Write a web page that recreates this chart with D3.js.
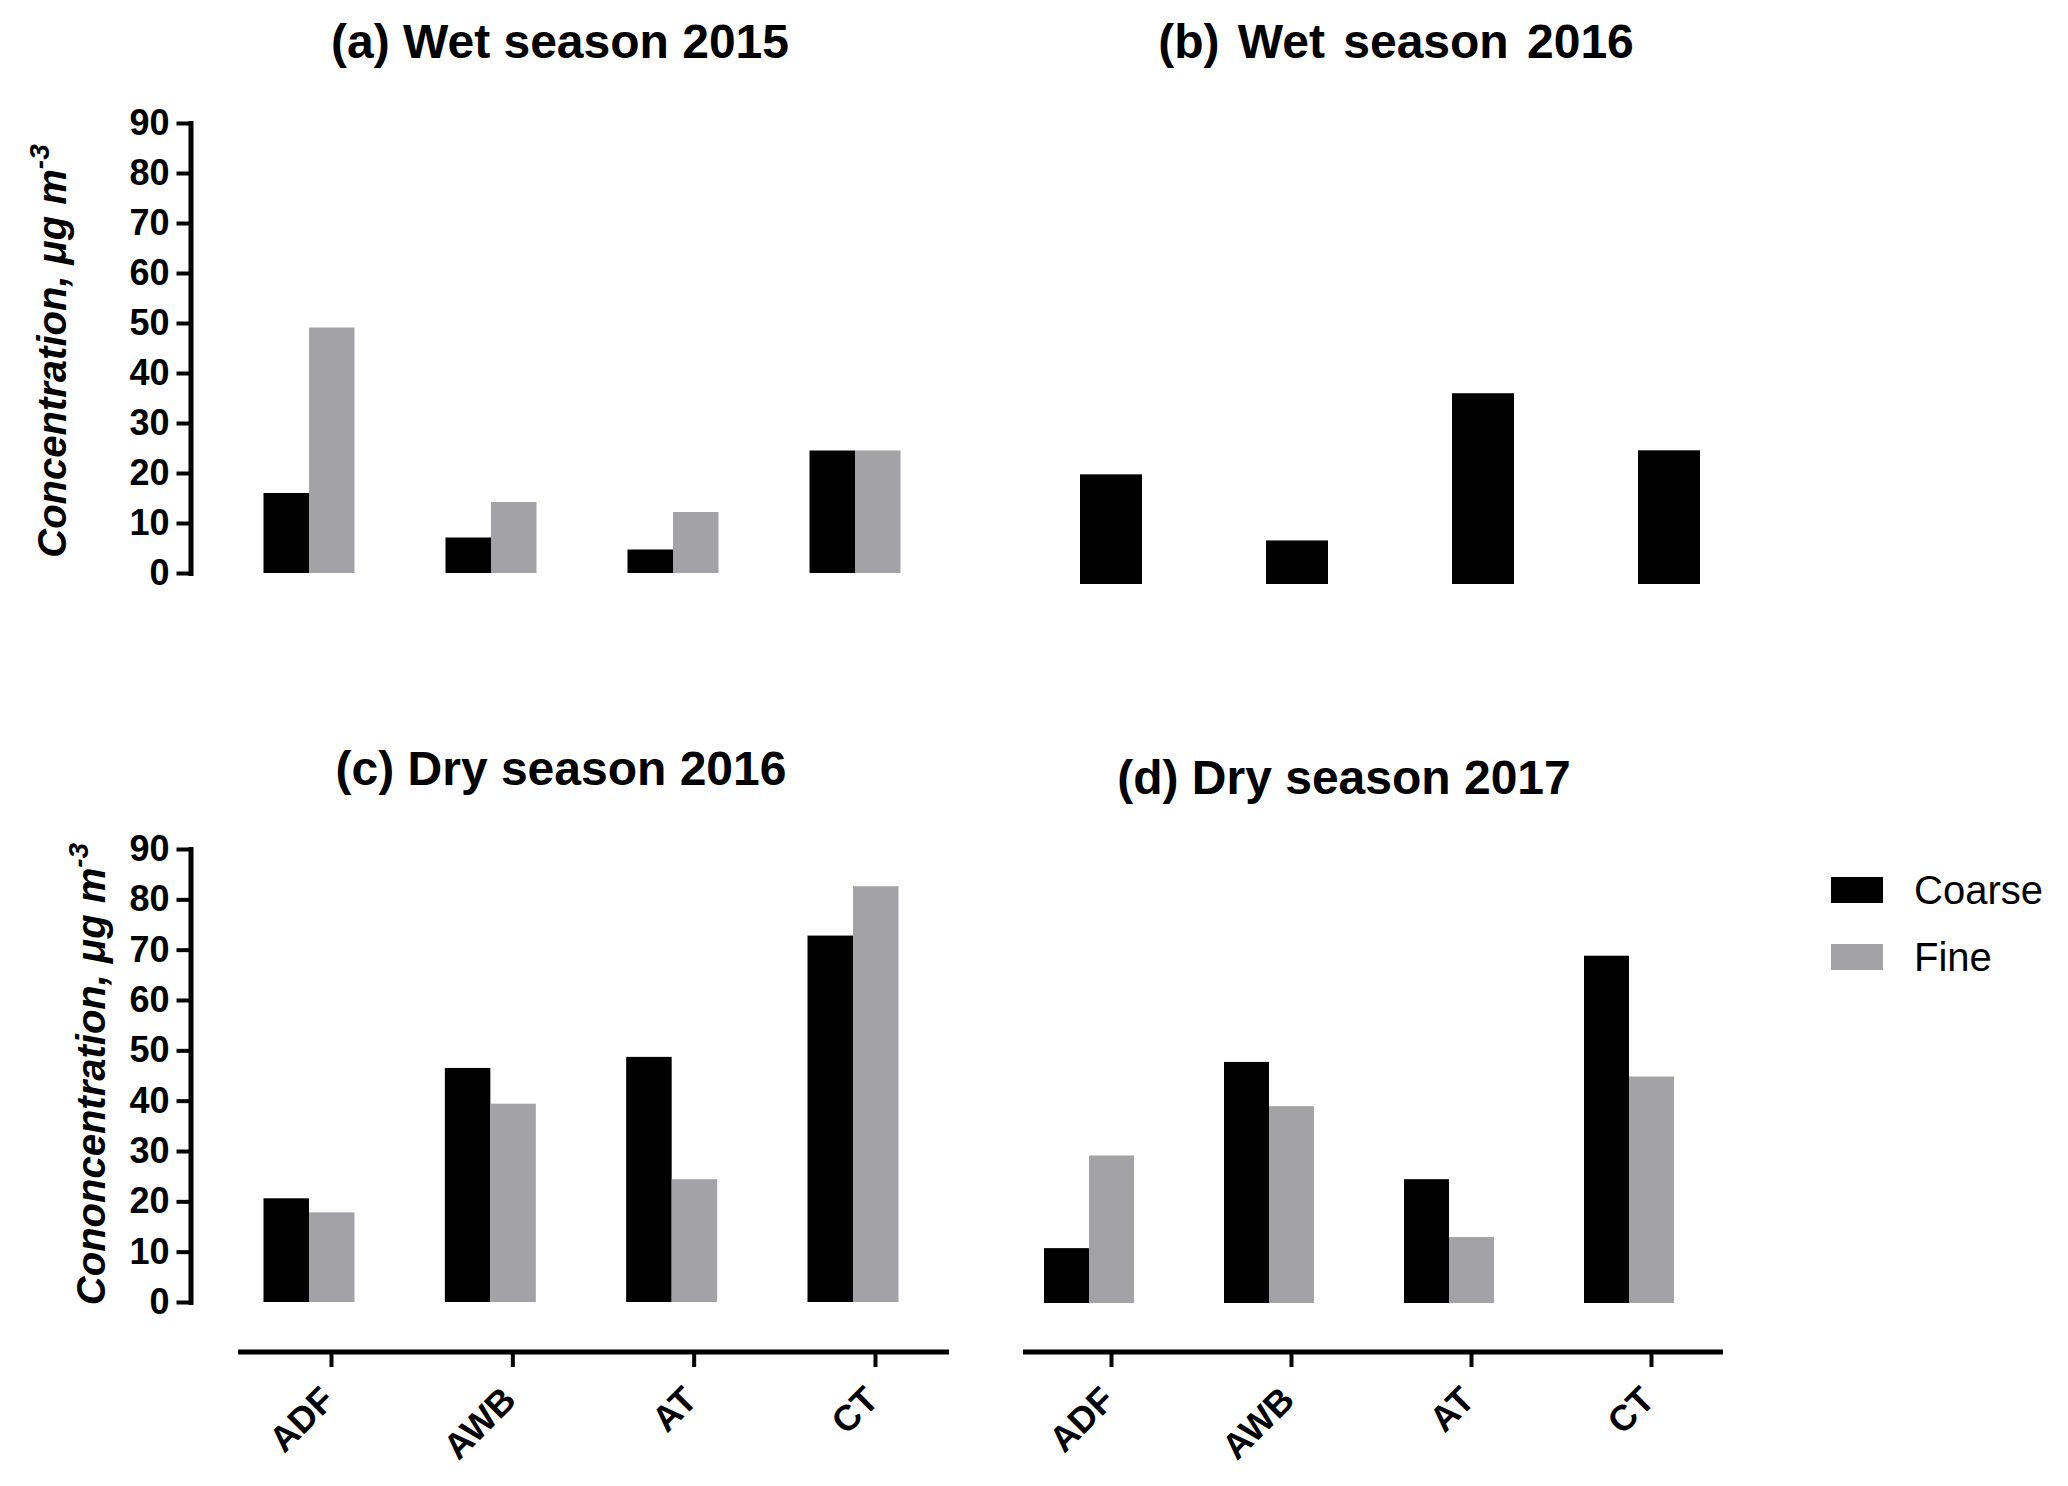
<!DOCTYPE html>
<html>
<head>
<meta charset="utf-8">
<script src="https://cdn.jsdelivr.net/npm/d3@7"></script>
<style>
body { margin: 0; background: #fff; }
svg text { font-family: "Liberation Sans", Arial, sans-serif; }
</style>
</head>
<body>
<svg id="chart" width="2068" height="1486"></svg>
<script>
var sites = ['ADF', 'AWB', 'AT', 'CT'];
var seriesNames = ['Coarse', 'Fine'];
var yTickValues = [0, 10, 20, 30, 40, 50, 60, 70, 80, 90];

var coarseWet2015 = [16.0, 7.1, 4.7, 24.5];
var fineWet2015 = [49.1, 14.2, 12.2, 24.5];
var coarseWet2016 = [21.9, 8.7, 38.1, 26.7];
var coarseDry2016 = [20.6, 46.5, 48.7, 72.8];
var fineDry2016 = [17.8, 39.4, 24.4, 82.6];
var coarseDry2017 = [10.9, 47.9, 24.6, 69.0];
var fineDry2017 = [29.3, 39.1, 13.1, 45.0];

var seriesColor = d3.scaleOrdinal().domain(seriesNames).range(['#000000', '#a3a2a7']);

var svg = d3.select('#chart');

// panel layout (pixel boxes), data comes from the arrays above
var panels = [
    { title: '(a) Wet season 2015', titleX: 560, titleY: 58, series: [coarseWet2015, fineWet2015],
      x0: 309, x1: 855, barW: 45.5, yZero: 573, yTop: 123, yAxisX: 190.5,
      yLabel: 'Concentration, μg m', labelX: 66, labelY: 351 },
    { title: '(b) Wet season 2016', titleX: 1396, titleY: 58, wordSpacing: 5, series: [coarseWet2016],
      x0: 1111, x1: 1669, barW: 62, yZero: 584, yTop: 133.4 },
    { title: '(c) Dry season 2016', titleX: 561, titleY: 785, series: [coarseDry2016, fineDry2016],
      x0: 309, x1: 853, barW: 45.5, yZero: 1302, yTop: 849, yAxisX: 190.5,
      yLabel: 'Cononcentration, μg m', labelX: 105, labelY: 1074,
      xAxis: { y: 1352, from: 238, to: 949, shift: 22 } },
    { title: '(d) Dry season 2017', titleX: 1344, titleY: 794, series: [coarseDry2017, fineDry2017],
      x0: 1089, x1: 1629, barW: 45, yZero: 1303, yTop: 850,
      xAxis: { y: 1352, from: 1023, to: 1723, shift: 22 } }
];

function drawPanel(p) {
    var g = svg.append('g');
    var x = d3.scalePoint().domain(sites).range([p.x0, p.x1]);
    var y = d3.scaleLinear().domain([0, 90]).range([p.yZero, p.yTop]);
    var n = p.series.length;
    var sub = d3.scaleBand().domain(d3.range(n)).range([-n * p.barW / 2, n * p.barW / 2]);

    g.append('text')
        .attr('x', p.titleX)
        .attr('y', p.titleY)
        .attr('text-anchor', 'middle')
        .style('font-size', '48px')
        .style('font-weight', 'bold')
        .style('word-spacing', (p.wordSpacing || 0) + 'px')
        .text(p.title);

    p.series.forEach(function (values, i) {
        g.append('g')
            .selectAll('rect')
            .data(values)
            .enter()
            .append('rect')
            .attr('x', function (d, j) { return x(sites[j]) + sub(i); })
            .attr('y', function (d) { return y(d); })
            .attr('width', sub.bandwidth())
            .attr('height', function (d) { return y(0) - y(d); })
            .attr('fill', seriesColor(seriesNames[i]));
    });

    if (p.yAxisX !== undefined) {
        var ax = g.append('g')
            .attr('transform', 'translate(' + p.yAxisX + ',0)')
            .call(d3.axisLeft(y).tickValues(yTickValues).tickSize(14).tickPadding(7).tickSizeOuter(0));
        ax.select('.domain').attr('stroke-width', 5).attr('stroke-linecap', 'square');
        ax.selectAll('.tick line').attr('stroke-width', 4);
        ax.selectAll('.tick text')
            .style('font-size', '36px')
            .style('font-weight', 'bold')
            .style('font-family', '"Liberation Sans", Arial, sans-serif');

        var lab = g.append('text')
            .attr('transform', 'translate(' + p.labelX + ',' + p.labelY + ') rotate(-90)')
            .attr('text-anchor', 'middle')
            .style('font-size', '40px')
            .style('font-weight', 'bold')
            .style('font-style', 'italic');
        lab.append('tspan').text(p.yLabel);
        lab.append('tspan')
            .attr('dy', -17)
            .style('font-size', '28px')
            .text('-3');
    }

    if (p.xAxis) {
        var xa = d3.scalePoint().domain(sites).range([p.x0 + p.xAxis.shift, p.x1 + p.xAxis.shift]);
        var bx = g.append('g')
            .attr('transform', 'translate(0,' + p.xAxis.y + ')')
            .call(d3.axisBottom(xa).tickSize(15).tickSizeOuter(0));
        bx.select('.domain').remove();
        bx.append('line')
            .attr('x1', p.xAxis.from)
            .attr('x2', p.xAxis.to)
            .attr('stroke', '#000')
            .attr('stroke-width', 5);
        bx.selectAll('.tick line').attr('stroke-width', 4);
        bx.selectAll('.tick text')
            .attr('x', 0)
            .attr('y', 0)
            .attr('dy', 0)
            .attr('text-anchor', 'end')
            .attr('transform', 'translate(5,50) rotate(-45)')
            .style('font-size', '36px')
            .style('font-weight', 'bold')
            .style('font-family', '"Liberation Sans", Arial, sans-serif');
    }
}

panels.forEach(drawPanel);

// legend
var legend = svg.append('g')
    .selectAll('g')
    .data(seriesNames)
    .enter()
    .append('g')
    .attr('transform', function (d, i) { return 'translate(1831,' + (877 + i * 67) + ')'; });

legend.append('rect')
    .attr('width', 52)
    .attr('height', 26)
    .attr('fill', function (d) { return seriesColor(d); });

legend.append('text')
    .attr('x', 83)
    .attr('y', 27)
    .style('font-size', '40px')
    .text(function (d) { return d; });
</script>
</body>
</html>
